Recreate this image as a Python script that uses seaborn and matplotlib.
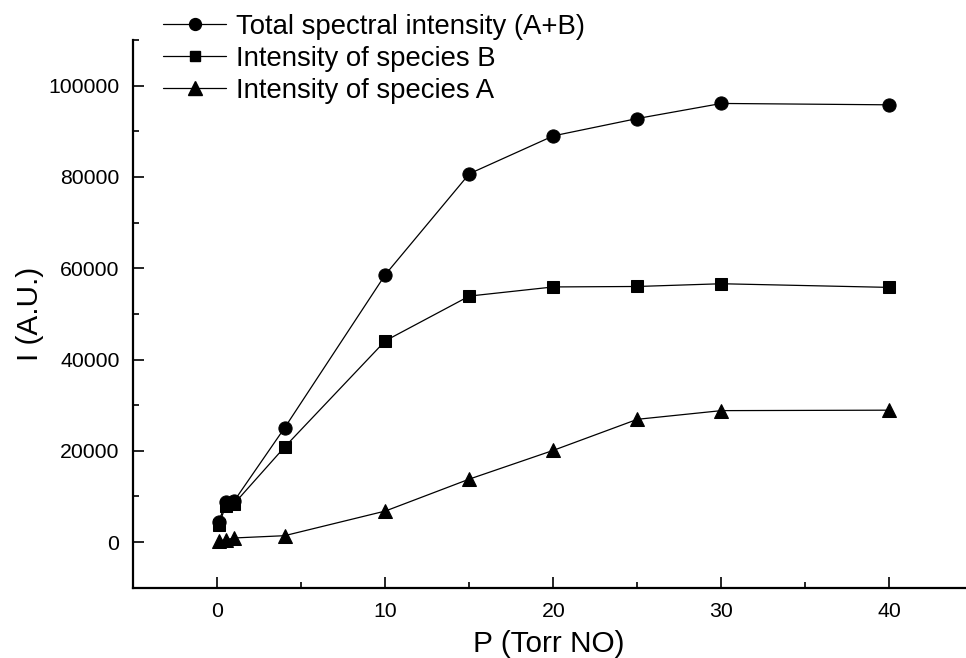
import numpy as np
import pandas as pd
import matplotlib
matplotlib.use("Agg")
import matplotlib.pyplot as plt
import seaborn as sns
from matplotlib.lines import Line2D
from matplotlib.ticker import MultipleLocator

# ---- data ----
pressure = [0.1, 0.5, 1, 4, 10, 15, 20, 25, 30, 40]
total_AB = [4500, 8800, 9000, 25000, 58600, 80700, 89000, 92800, 96100, 95800]
species_B = [3800, 8000, 8400, 20800, 44100, 53900, 55900, 56000, 56600, 55800]
species_A = [300, 500, 900, 1400, 6800, 13800, 20100, 26900, 28800, 28900]

series_names = ["Total spectral intensity (A+B)",
                "Intensity of species B",
                "Intensity of species A"]
x_label = "P (Torr NO)"
y_label = "I (A.U.)"

df = pd.DataFrame({
    "P": pressure * 3,
    "I": total_AB + species_B + species_A,
    "series": [series_names[0]] * len(pressure)
              + [series_names[1]] * len(pressure)
              + [series_names[2]] * len(pressure),
})

sns.set_theme(style="ticks")
plt.rcParams["font.family"] = ["Liberation Sans", "DejaVu Sans"]
plt.rcParams["text.color"] = "black"
plt.rcParams["axes.labelcolor"] = "black"
plt.rcParams["xtick.color"] = "black"
plt.rcParams["ytick.color"] = "black"

fig = plt.figure(figsize=(9.66, 6.58), dpi=100)
ax = fig.add_axes([0.138, 0.1068, 0.861, 0.8324])

markers = {series_names[0]: "o", series_names[1]: "s", series_names[2]: "^"}
msizes = {series_names[0]: 9.5, series_names[1]: 8.5, series_names[2]: 10.5}
for name in series_names:
    sub = df[df["series"] == name]
    sns.lineplot(data=sub, x="P", y="I", ax=ax, color="black", lw=0.9,
                 marker=markers[name], markersize=msizes[name],
                 markeredgecolor="black", markerfacecolor="black",
                 legend=False, zorder=3)

ax.set_xlim(-5, 44.5)
ax.set_ylim(-10000, 110000)
ax.xaxis.set_major_locator(MultipleLocator(10))
ax.xaxis.set_minor_locator(MultipleLocator(5))
ax.yaxis.set_major_locator(MultipleLocator(20000))
ax.yaxis.set_minor_locator(MultipleLocator(10000))

for side in ["top", "right"]:
    ax.spines[side].set_visible(False)
for side in ["left", "bottom"]:
    ax.spines[side].set_linewidth(1.6)
    ax.spines[side].set_color("black")

ax.tick_params(which="major", direction="in", length=8, width=1.2,
               labelsize=15.3, pad=10, colors="black")
ax.tick_params(which="minor", direction="in", length=4.5, width=1.2,
               colors="black")

ax.set_xlabel(x_label, fontsize=21.4, labelpad=7, color="black")
ax.set_ylabel(y_label, fontsize=21.4, labelpad=3, color="black")

handles = [Line2D([0], [0], color="black", lw=0.9, marker=markers[n],
                  markersize=msizes[n] * 0.9, markerfacecolor="black",
                  markeredgecolor="black") for n in series_names]
fig.legend(handles, series_names, loc="upper left",
           bbox_to_anchor=(163 / 966, 1 - 14 / 658), frameon=False,
           fontsize=19.8, handlelength=2.3, handletextpad=0.35,
           labelspacing=0.22, borderpad=0, borderaxespad=0,
           labelcolor="black")

fig.savefig("out.png", dpi=100)
